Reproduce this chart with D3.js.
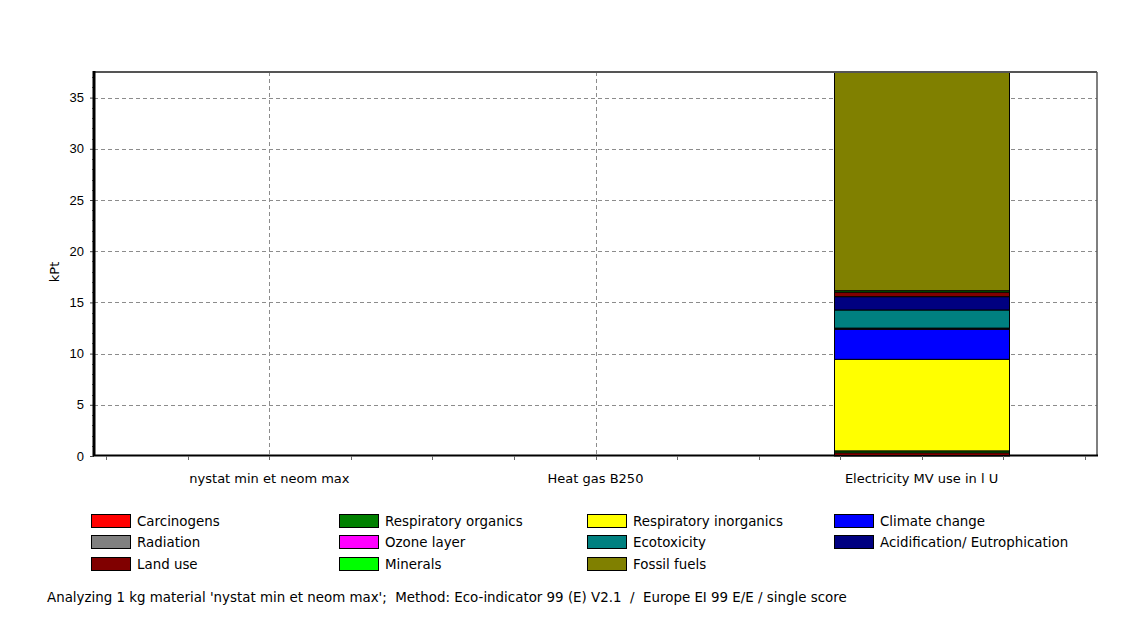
<!DOCTYPE html>
<html>
<head>
<meta charset="utf-8">
<script src="https://cdn.jsdelivr.net/npm/d3@7"></script>
<style>
  html, body { margin: 0; padding: 0; background: #fff; }
  svg { display: block; font-family: "DejaVu Sans", Verdana, sans-serif; }
  text { white-space: pre; }
</style>
</head>
<body>
<svg id="chart" width="1126" height="628"></svg>
<script>
// Processes compared
const categories = ["nystat min et neom max", "Heat gas B250", "Electricity MV use in l U"];

// Impact categories (stacking order, bottom to top) and their colours
const impactNames = ["Carcinogens", "Respiratory organics", "Respiratory inorganics", "Climate change",
  "Radiation", "Ozone layer", "Ecotoxicity", "Acidification/ Eutrophication",
  "Land use", "Minerals", "Fossil fuels"];
const impactColors = ["#ff0000", "#008000", "#ffff00", "#0000ff",
  "#808080", "#ff00ff", "#008080", "#000080",
  "#800000", "#00ff00", "#808000"];

// Single score per process, kPt
const carcinogens     = [0, 0, 0.30];
const respOrganics    = [0, 0, 0.20];
const respInorganics  = [0, 0, 8.94];
const climateChange   = [0, 0, 2.93];
const radiation       = [0, 0, 0.02];
const ozoneLayer      = [0, 0, 0.10];
const ecotoxicity     = [0, 0, 1.77];
const acidification   = [0, 0, 1.30];
const landUse         = [0, 0, 0.45];
const minerals        = [0, 0, 0.13];
const fossilFuels     = [0, 0, 21.36];

const yTicks = [0, 5, 10, 15, 20, 25, 30, 35];
const yLabel = "kPt";
const footer = "Analyzing 1 kg material 'nystat min et neom max';  Method: Eco-indicator 99 (E) V2.1  /  Europe EI 99 E/E / single score";

const seriesValues = [carcinogens, respOrganics, respInorganics, climateChange, radiation,
  ozoneLayer, ecotoxicity, acidification, landUse, minerals, fossilFuels];

const rows = categories.map((c, i) => {
  const r = { category: c };
  impactNames.forEach((n, k) => { r[n] = seriesValues[k][i]; });
  return r;
});

const stacked = d3.stack().keys(impactNames)(rows);
const yMax = d3.max(rows, r => d3.sum(impactNames, n => r[n]));

const svg = d3.select("#chart");
const plotL = 94, plotR = 1097, plotT = 72, plotB = 456;
const fontSize = 13;

const x = d3.scalePoint().domain(categories).range([plotL, plotR]).padding(0.538);
const step = x.step();
const barW = step * 0.537;
const y = d3.scaleLinear().domain([0, yMax]).range([plotB, plotT]);

// Grid
const grid = svg.append("g").attr("stroke", "#8c8c8c").attr("stroke-dasharray", "4,3").attr("stroke-width", 1);
yTicks.filter(t => t > 0).forEach(t => {
  grid.append("line").attr("x1", plotL).attr("x2", plotR)
    .attr("y1", Math.round(y(t)) + 0.5).attr("y2", Math.round(y(t)) + 0.5);
});
categories.forEach(c => {
  grid.append("line").attr("x1", Math.round(x(c)) + 0.5).attr("x2", Math.round(x(c)) + 0.5)
    .attr("y1", plotT).attr("y2", plotB);
});

// Bars
svg.append("g").selectAll("g").data(stacked).join("g")
  .attr("fill", (d, i) => impactColors[i])
  .selectAll("rect").data(d => d.filter(s => s[1] - s[0] > 0)).join("rect")
  .attr("x", d => Math.round(x(d.data.category) - barW / 2) + 0.5)
  .attr("width", Math.round(barW))
  .attr("y", d => y(d[1]))
  .attr("height", d => y(d[0]) - y(d[1]))
  .attr("stroke", "#000").attr("stroke-width", 1);

// Frame (top and right)
svg.append("line").attr("x1", plotL).attr("x2", plotR).attr("y1", plotT).attr("y2", plotT)
  .attr("stroke", "#555").attr("stroke-width", 2);
svg.append("line").attr("x1", plotR).attr("x2", plotR).attr("y1", plotT).attr("y2", plotB)
  .attr("stroke", "#555").attr("stroke-width", 1.5);

// Y axis
const yAxis = d3.axisLeft(y).tickValues(yTicks).tickSize(4).tickPadding(6).tickFormat(d3.format("d"));
const gy = svg.append("g").attr("transform", `translate(${plotL},0)`).call(yAxis);
gy.select(".domain").remove();
gy.selectAll("text").attr("font-size", fontSize).attr("fill", "#000").attr("font-family", null);
gy.selectAll("line").attr("stroke", "#444");
// minor ticks
const minor = d3.range(1, Math.floor(yMax) + 1).filter(v => v % 5 !== 0);
svg.append("g").selectAll("line").data(minor).join("line")
  .attr("x1", plotL - 2).attr("x2", plotL).attr("y1", d => Math.round(y(d)) + 0.5).attr("y2", d => Math.round(y(d)) + 0.5)
  .attr("stroke", "#666");
svg.append("line").attr("x1", plotL).attr("x2", plotL).attr("y1", plotT - 1).attr("y2", plotB)
  .attr("stroke", "#000").attr("stroke-width", 3);

svg.append("text").attr("transform", `translate(59,${(plotT + plotB) / 2 + 8}) rotate(-90)`)
  .attr("text-anchor", "middle").attr("font-size", fontSize).text(yLabel);

// X axis
svg.append("line").attr("x1", plotL - 1).attr("x2", plotR + 1).attr("y1", plotB - 0.5).attr("y2", plotB - 0.5)
  .attr("stroke", "#000").attr("stroke-width", 2);
const xTickPos = d3.range(-2, 11).map(k => x(categories[0]) + (k * step) / 4)
  .filter(p => p > plotL + 2 && p < plotR - 2);
svg.append("g").selectAll("line").data(xTickPos).join("line")
  .attr("x1", d => Math.round(d) + 0.5).attr("x2", d => Math.round(d) + 0.5)
  .attr("y1", plotB).attr("y2", plotB + 4)
  .attr("stroke", "#666");
svg.append("g").selectAll("text").data(categories).join("text")
  .attr("x", d => x(d)).attr("y", 483).attr("text-anchor", "middle")
  .attr("font-size", fontSize).text(d => d);

// Legend
const legCols = [91, 339, 587, 834];
const legRows = [521, 542, 564];
const legend = svg.append("g").selectAll("g").data(impactNames).join("g")
  .attr("transform", (d, i) => `translate(${legCols[i % 4]},${legRows[Math.floor(i / 4)]})`);
legend.append("rect").attr("x", 0.5).attr("y", -6.5).attr("width", 39).attr("height", 13)
  .attr("fill", (d, i) => impactColors[i]).attr("stroke", "#000").attr("stroke-width", 1);
legend.append("text").attr("x", 46).attr("y", 5).attr("font-size", 13.4).text(d => d);

svg.append("text").attr("x", 47).attr("y", 602).attr("font-size", 13.4).text(footer);
</script>
</body>
</html>
